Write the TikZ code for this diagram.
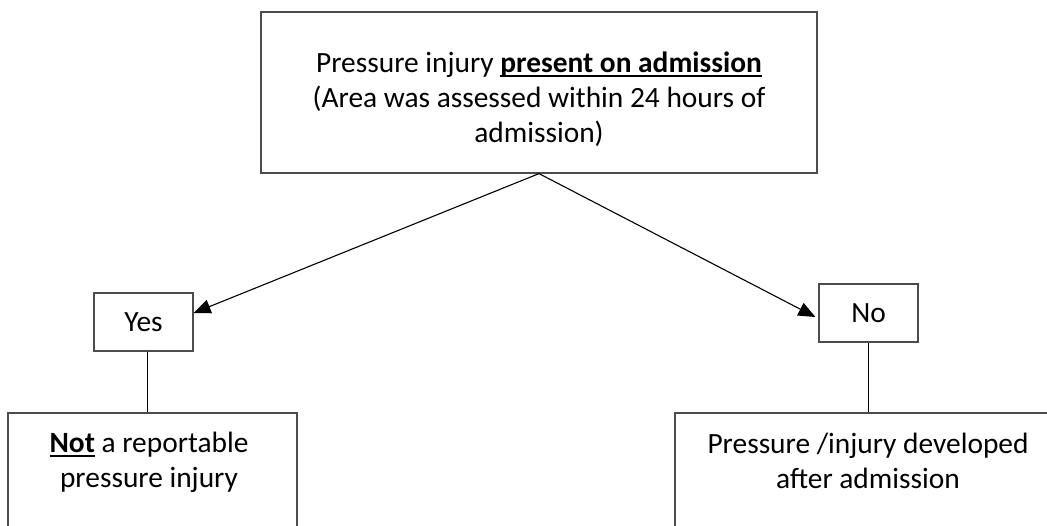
\documentclass[tikz,border=0pt]{standalone}
\usepackage{fontspec}
\setmainfont{Carlito}
\usetikzlibrary{arrows.meta,fit}
% bold text with a solid rule just under the baseline
\newcommand\ulbf[1]{\setbox0\hbox{\textbf{#1}}\rlap{\rule[-2.4pt]{\wd0}{0.9pt}}\box0\relax}
\begin{document}
\begin{tikzpicture}[x=0.5pt,y=-0.5pt,
  frame/.style={draw=black!70, line width=0.6pt, inner sep=0pt},
  txt/.style={font=\fontsize{14.7}{17.6}\selectfont, align=center, inner sep=0pt},
  link/.style={draw=black, line width=0.55pt},
  arrowlink/.style={link, -{Triangle[length=8.5pt,width=7pt]}}]
\useasboundingbox (0,0) rectangle (1047,525);

% question box
\node[frame, fit={(261,12) (817,173)}] (q) {};
\node[txt] (qt) at (539,99) {Pressure injury \ulbf{present on admission}\\(Area was assessed within 24 hours of\\admission)};

% answer boxes
\node[frame, txt, minimum width=49.5pt, minimum height=29pt] (yes) at (143.5,322) {Yes};
\node[frame, txt, minimum width=49.5pt, minimum height=29pt] (no) at (868.5,313) {No};

% outcome boxes (run past the lower edge)
\node[frame, fit={(8,413) (297,560)}] (lbox) {};
\node[txt] (lt) at (149,462) {\ulbf{Not} a reportable\\pressure injury};
\node[frame, fit={(675,413) (1090,560)}] (rbox) {};
\node[txt] (rt) at (868,461) {Pressure /injury developed\\after admission};

% connectors
\draw[arrowlink] (q.south) -- ([yshift=4.5pt]yes.east);
\draw[arrowlink] (q.south) -- ([xshift=-1.5pt,yshift=-2pt]no.west);
\draw[link] ([xshift=2.2pt]yes.south) -- ([xshift=2.2pt]yes.south |- lbox.north);
\draw[link] (no.south) -- (no.south |- rbox.north);
\end{tikzpicture}
\end{document}
